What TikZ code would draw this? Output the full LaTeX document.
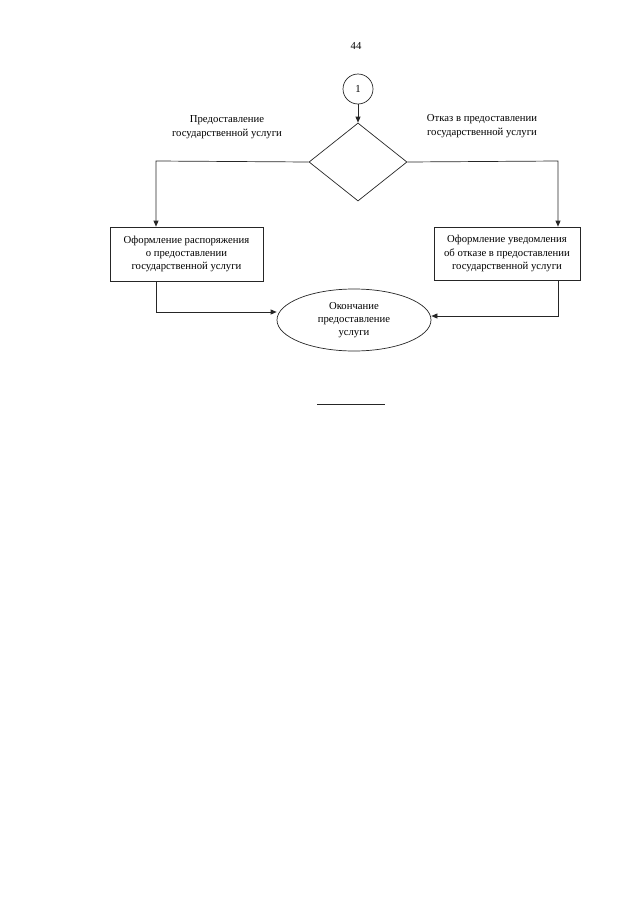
\documentclass[tikz,border=0pt]{standalone}
\usepackage{fontspec}
\setmainfont{Liberation Serif}
\usetikzlibrary{shapes.geometric,arrows.meta}
\begin{document}
\begin{tikzpicture}[x=1pt,y=-1pt,
  line/.style={draw=black!85,line width=0.7pt},
  arr/.style={line,-{Triangle[length=6pt,width=5pt]}},
  txt/.style={font=\fontsize{10.7}{13.3}\selectfont,align=center,inner sep=0pt}]
\useasboundingbox (0,0) rectangle (640,905);
\node[txt] (pg) at (356,46) {44};
\node[circle,line,minimum size=30pt,inner sep=0pt,txt] (c1) at (358,89) {1};
\node[diamond,line,minimum width=98pt,minimum height=78pt,inner sep=0pt,aspect=1.25] (d) at (358,162) {};
\node[txt] (lt) at (227,127) {Предоставление\\государственной услуги};
\node[txt] (rt) at (482,126) {Отказ в предоставлении\\государственной услуги};
\node[draw,line,txt,minimum width=153pt,minimum height=54pt] (lb) at (186.5,254) {Оформление распоряжения\\о предоставлении\\государственной услуги};
\node[draw,line,txt,minimum width=146pt,minimum height=53pt] (rb) at (507,253.5) {Оформление уведомления\\об отказе в предоставлении\\государственной услуги};
\node[ellipse,line,txt,minimum width=154pt,minimum height=62pt] (e) at (354,320) {Окончание\\предоставление\\услуги};
\coordinate (lc) at (156,161);
\coordinate (rc) at (558,161);
\coordinate (ld) at (156,312);
\coordinate (rd) at (558,316);
\draw[arr] (c1.south) -- (d.north);
\draw[arr] (d.west) -- (lc) -- (lb.north -| lc);
\draw[arr] (d.east) -- (rc) -- (rb.north -| rc);
\draw[arr] (lb.south -| ld) -- (ld) -- (e.west |- ld);
\draw[arr] (rb.south -| rd) -- (rd) -- (e.east |- rd);
\coordinate (h1) at (317,404);
\coordinate (h2) at (385,404);
\draw[line] (h1) -- (h2);
\end{tikzpicture}
\end{document}
